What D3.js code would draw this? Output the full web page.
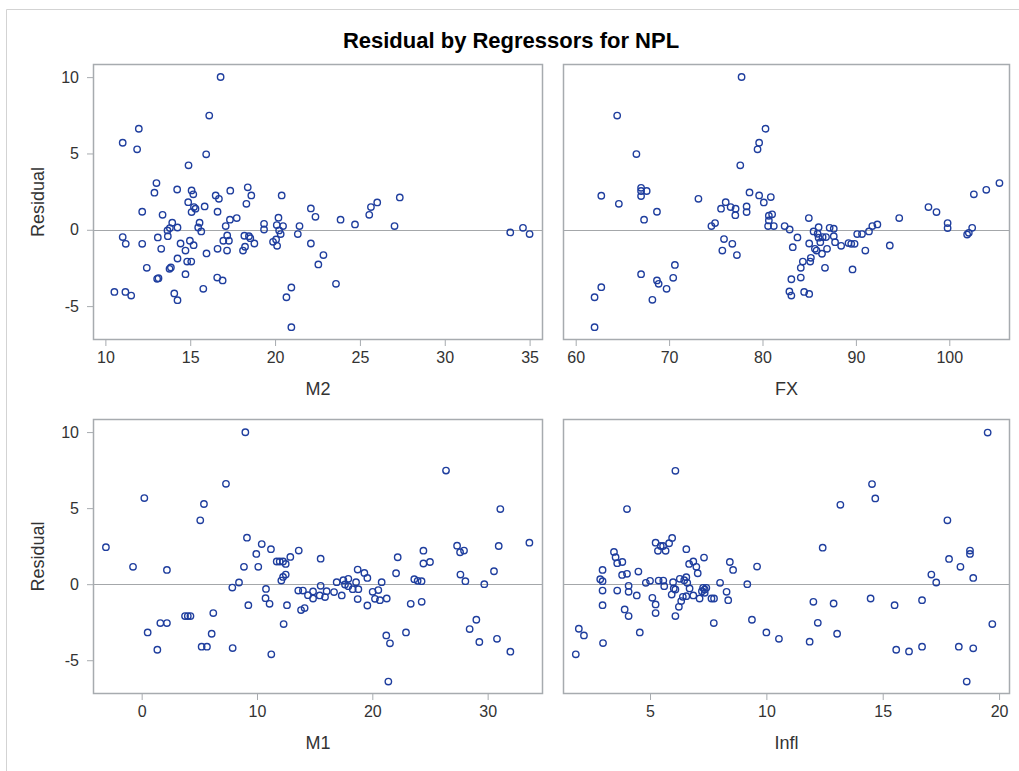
<!DOCTYPE html>
<html>
<head>
<meta charset="utf-8">
<script src="https://cdn.jsdelivr.net/npm/d3@7"></script>
<style>
  body { margin: 0; background: #fff; }
  svg text { font-family: "Liberation Sans", Arial, sans-serif; }
</style>
</head>
<body>
<svg id="chart" width="1019" height="771"></svg>
<script>
// ---------- DATA ----------
const chartTitle = "Residual by Regressors for NPL";
const yTitle = "Residual";
const yTicks = [-5, 0, 5, 10];

const m2Ticks = [10, 15, 20, 25, 30, 35];
const m2X = [16.79,16.12,11.97,11.02,11.87,15.94,14.90,13.01,12.89,14.23,15.08,15.18,16.50,16.69,17.36,18.39,18.60,18.31,20.39,14.88,
  15.22,15.31,15.08,15.85,16.61,12.17,13.37,17.34,17.74,13.94,14.25,13.80,13.66,15.55,15.47,15.65,17.09,19.35,19.35,20.20,
  20.10,20.47,20.24,21.44,22.11,22.38,11.02,11.20,12.17,13.09,13.68,13.29,14.43,14.98,15.20,14.72,15.96,16.61,16.95,17.18,
  17.28,17.17,18.19,18.46,18.54,18.78,18.23,18.11,19.88,20.06,20.12,20.33,21.34,22.11,12.44,13.05,13.13,13.78,13.86,14.25,
  14.72,14.82,15.06,16.59,16.91,15.77,10.53,11.18,11.52,14.06,14.25,20.96,20.67,20.96,22.55,22.85,23.59,23.86,24.71,25.55,
  25.65,26.02,27.35,27.04,33.86,34.61,35.00];
const m2Res = [10.01,7.48,6.62,5.70,5.27,4.94,4.22,3.06,2.43,2.64,2.58,2.32,2.25,2.03,2.56,2.78,2.25,1.70,2.25,1.81,
  1.49,1.38,1.16,1.53,1.18,1.18,0.98,0.66,0.77,0.46,0.15,0.11,-0.04,0.46,0.15,-0.11,0.24,0.39,0.02,0.79,
  0.31,0.24,-0.04,0.24,1.40,0.85,-0.48,-0.92,-0.92,-0.50,-0.42,-1.25,-0.90,-0.72,-1.01,-1.36,-1.55,-1.25,-0.72,-0.37,
  -0.72,-1.36,-0.39,-0.42,-0.55,-0.90,-1.11,-1.36,-0.79,-0.63,-1.05,-0.28,-0.28,-0.90,-2.49,-3.21,-3.17,-2.56,-2.47,-1.88,
  -2.91,-2.08,-2.08,-3.13,-3.32,-3.87,-4.07,-4.07,-4.31,-4.17,-4.61,-3.78,-4.42,-6.38,-2.27,-1.66,-3.54,0.66,0.35,0.98,
  1.49,1.79,2.12,0.24,-0.17,0.13,-0.28];

const fxTicks = [60, 70, 80, 90, 100];
const fxX = [77.76,64.44,80.32,79.64,79.47,66.50,77.62,67.00,67.00,67.60,67.00,62.74,64.62,67.32,68.70,73.14,78.61,79.64,80.14,80.89,
  76.06,75.56,76.59,77.12,77.09,78.30,78.30,74.53,74.92,80.68,81.03,80.68,80.60,81.21,75.88,75.70,76.77,77.26,70.62,70.44,
  67.00,68.70,68.88,69.73,68.21,62.74,62.02,62.02,82.37,82.91,84.96,83.74,83.24,85.47,86.01,85.90,86.44,86.80,86.01,86.19,
  85.00,85.61,85.79,86.91,86.37,87.19,87.63,87.63,87.77,88.42,89.21,89.50,89.86,90.14,90.65,91.40,91.76,92.30,94.64,93.63,
  91.01,89.64,86.69,85.18,85.11,84.32,84.10,84.10,83.09,82.88,83.09,84.46,85.00,97.77,98.63,99.82,99.82,101.91,102.09,102.45,
  102.63,103.96,105.37];
const fxRes = [10.01,7.48,6.62,5.70,5.27,4.96,4.22,2.75,2.54,2.54,2.21,2.23,1.70,0.66,1.18,2.03,2.45,2.25,1.79,2.14,
  1.81,1.38,1.49,1.38,0.96,1.53,1.16,0.24,0.44,0.92,1.01,0.61,0.24,0.24,-0.61,-1.36,-0.92,-1.66,-2.30,-3.15,
  -2.91,-3.32,-3.54,-3.87,-4.59,-3.76,-4.42,-6.38,0.24,0.02,0.77,-0.50,-1.14,-0.11,0.17,-0.26,-0.48,-0.48,-0.52,-0.81,
  -0.90,-1.25,-1.36,-1.25,-1.57,0.13,0.07,-0.42,-0.81,-1.05,-0.87,-0.92,-0.92,-0.28,-0.28,-0.11,0.24,0.35,0.77,-1.03,
  -1.36,-2.60,-2.49,-1.84,-2.08,-2.08,-2.49,-3.13,-3.24,-4.04,-4.31,-4.07,-4.20,1.49,1.16,0.44,0.11,-0.31,-0.20,0.13,
  2.32,2.62,3.06];

const m1Ticks = [0, 10, 20, 30];
const m1X = [8.99,7.31,0.23,5.40,5.08,-3.10,-0.75,2.19,9.13,10.41,9.94,11.21,13.62,12.89,11.71,11.97,12.26,12.49,8.87,10.11,
  12.49,12.26,12.11,15.52,8.44,7.86,10.78,10.74,11.09,9.25,12.60,13.58,13.98,14.42,14.86,14.86,15.44,15.52,13.82,14.13,
  12.31,6.21,6.07,3.76,4.00,4.23,1.62,2.19,0.52,1.36,5.20,5.66,7.89,11.24,16.04,15.90,16.68,16.91,17.35,17.49,
  17.92,17.63,17.92,18.30,18.59,18.79,18.73,19.31,19.57,18.73,19.57,20.03,20.52,20.81,20.23,20.66,21.25,22.06,22.20,23.33,
  22.92,21.21,21.53,21.39,23.64,23.93,24.27,24.28,24.43,24.43,25.00,26.39,27.35,27.61,27.95,27.64,28.07,29.02,28.44,29.28,
  29.71,30.55,30.96,31.10,30.81,31.97,33.62];
const m1Res = [9.99,6.60,5.66,5.27,4.20,2.43,1.14,0.94,3.06,2.64,1.99,2.30,2.21,1.79,1.49,1.49,1.49,1.33,1.14,1.14,
  0.63,0.48,0.24,1.68,0.11,-0.22,-0.31,-0.92,-1.29,-1.38,-1.38,-0.42,-0.42,-0.72,-0.48,-0.94,-0.74,-0.11,-1.70,-1.57,
  -2.62,-1.90,-3.26,-2.10,-2.10,-2.10,-2.56,-2.56,-3.17,-4.31,-4.11,-4.11,-4.20,-4.61,-0.46,-0.85,-0.52,0.13,-0.74,0.26,
  0.35,-0.02,-0.13,-0.33,0.13,-0.33,0.96,0.74,0.41,-0.98,-1.40,-0.50,-0.39,0.13,-0.96,-1.05,-0.94,0.72,1.77,-1.29,
  -3.17,-3.37,-3.89,-6.40,0.33,0.22,0.20,-1.16,2.20,1.36,1.46,7.47,2.53,2.10,2.21,0.63,0.20,-2.34,-2.95,-3.80,
  0.00,0.85,2.51,4.94,-3.59,-4.44,2.73];

const inflTicks = [5, 10, 15, 20];
const inflX = [6.09,4.01,5.24,5.46,5.56,5.82,5.95,5.34,5.67,3.45,3.52,3.81,3.59,2.96,3.80,4.01,4.50,2.86,2.96,2.96,
  3.59,4.08,4.08,4.43,2.96,3.91,4.08,4.56,1.94,2.16,2.98,1.81,6.56,7.32,6.68,6.86,6.99,7.05,4.82,5.00,
  5.37,5.57,5.61,5.99,6.02,6.09,5.93,6.28,6.47,6.56,6.60,6.70,6.41,6.56,6.34,6.24,6.09,5.10,5.24,5.24,
  6.86,7.13,7.23,7.35,7.28,7.42,7.35,7.64,7.75,7.74,8.01,8.29,8.36,8.43,8.57,9.18,9.60,9.38,10.00,10.54,
  19.51,14.54,14.68,13.18,12.42,17.78,18.75,18.75,17.85,18.34,17.09,17.30,18.89,12.02,12.89,14.48,15.51,16.69,12.21,13.04,
  11.86,15.58,16.13,16.69,18.27,18.89,18.61,19.71];
const inflRes = [7.45,4.94,2.73,2.51,2.51,2.69,3.04,2.19,2.19,2.12,1.77,1.46,1.38,0.94,0.61,0.68,0.83,0.33,0.20,-0.42,
  -0.42,-0.11,-0.50,-0.74,-1.38,-1.66,-2.10,-3.17,-2.93,-3.37,-3.87,-4.61,2.30,1.75,1.33,1.49,1.14,0.72,0.09,0.22,
  0.24,0.24,-0.13,0.13,-0.28,-0.35,-0.68,0.35,0.26,0.46,0.09,-0.28,-0.83,-0.79,-1.11,-1.49,-2.10,-0.90,-1.33,-1.90,
  -0.74,-0.94,-0.46,-0.35,-0.24,-0.24,-0.57,-0.94,-0.94,-2.56,0.09,-0.50,-1.05,1.46,0.94,0.00,1.16,-2.34,-3.17,-3.59,
  9.97,6.58,5.64,5.22,2.40,4.20,2.21,1.99,1.66,1.14,0.63,0.11,0.41,-1.16,-1.27,-0.94,-1.38,-1.05,-2.54,-3.26,
  -3.78,-4.31,-4.42,-4.11,-4.11,-4.22,-6.40,-2.62];

// ---------- LAYOUT ----------
const svg = d3.select("#chart");
const markerColor = "#1f3e9e";
const frameColor = "#a7abaf";
const textColor = "#333333";
const FONT = "'Liberation Sans', Arial, sans-serif";
const fmt = d => String(d);

// outer frame
svg.append("line").attr("x1", 6.5).attr("x2", 1019).attr("y1", 9.5).attr("y2", 9.5).attr("stroke", "#d3d3d3");
svg.append("line").attr("x1", 6.5).attr("x2", 6.5).attr("y1", 9.5).attr("y2", 771).attr("stroke", "#d3d3d3");

svg.append("text").attr("x", 511).attr("y", 48).attr("text-anchor", "middle")
  .attr("font-size", 22).attr("font-weight", "bold").attr("fill", "#000").text(chartTitle);

const yDomain = [-7.22, 10.86];
const panels = [
  { name: "M2",   xs: m2X,   ys: m2Res,   ticks: m2Ticks,   dom: [9.27, 35.79],  x0: 93,  x1: 543,  y0: 64,  y1: 340, yAxis: true },
  { name: "FX",   xs: fxX,   ys: fxRes,   ticks: fxTicks,   dom: [58.64, 106.5], x0: 563, x1: 1010, y0: 64,  y1: 340, yAxis: false },
  { name: "M1",   xs: m1X,   ys: m1Res,   ticks: m1Ticks,   dom: [-4.22, 34.8],  x0: 93,  x1: 543,  y0: 419, y1: 694, yAxis: true },
  { name: "Infl", xs: inflX, ys: inflRes, ticks: inflTicks, dom: [1.26, 20.47],  x0: 563, x1: 1010, y0: 419, y1: 694, yAxis: false }
];

panels.forEach(p => {
  const x = d3.scaleLinear().domain(p.dom).range([p.x0, p.x1]);
  const y = d3.scaleLinear().domain(yDomain).range([p.y1, p.y0]);
  const g = svg.append("g");

  // zero reference line
  g.append("line").attr("x1", p.x0).attr("x2", p.x1)
    .attr("y1", Math.round(y(0)) + 0.5).attr("y2", Math.round(y(0)) + 0.5)
    .attr("stroke", "#a4a7aa").attr("stroke-width", 1.2);

  // points
  g.selectAll("circle").data(p.xs.map((v, i) => [v, p.ys[i]])).join("circle")
    .attr("cx", d => x(d[0])).attr("cy", d => y(d[1])).attr("r", 3.2)
    .attr("fill", "none").attr("stroke", markerColor).attr("stroke-width", 1.4);

  // x axis
  const xa = svg.append("g").attr("transform", `translate(0,${p.y1})`)
    .call(d3.axisBottom(x).tickValues(p.ticks).tickSize(6).tickPadding(6).tickFormat(fmt));
  xa.select(".domain").remove();
  xa.selectAll("line").attr("stroke", frameColor);
  xa.selectAll("text").attr("font-size", 16).attr("fill", textColor).attr("font-family", FONT);

  svg.append("text").attr("x", (p.x0 + p.x1) / 2).attr("y", p.y1 + 55)
    .attr("text-anchor", "middle").attr("font-size", 18).attr("fill", textColor).text(p.name);

  if (p.yAxis) {
    const ya = svg.append("g").attr("transform", `translate(${p.x0},0)`)
      .call(d3.axisLeft(y).tickValues(yTicks).tickSize(6).tickPadding(8).tickFormat(fmt));
    ya.select(".domain").remove();
    ya.selectAll("line").attr("stroke", frameColor);
    ya.selectAll("text").attr("font-size", 16).attr("fill", textColor).attr("font-family", FONT);
    svg.append("text")
      .attr("transform", `translate(44,${(p.y0 + p.y1) / 2}) rotate(-90)`)
      .attr("text-anchor", "middle").attr("font-size", 18).attr("fill", textColor).text(yTitle);
  }

  // panel border
  g.append("rect").attr("x", p.x0 + 0.5).attr("y", p.y0 + 0.5)
    .attr("width", p.x1 - p.x0 - 1).attr("height", p.y1 - p.y0 - 1)
    .attr("fill", "none").attr("stroke", frameColor).attr("stroke-width", 1.5);
});
</script>
</body>
</html>
